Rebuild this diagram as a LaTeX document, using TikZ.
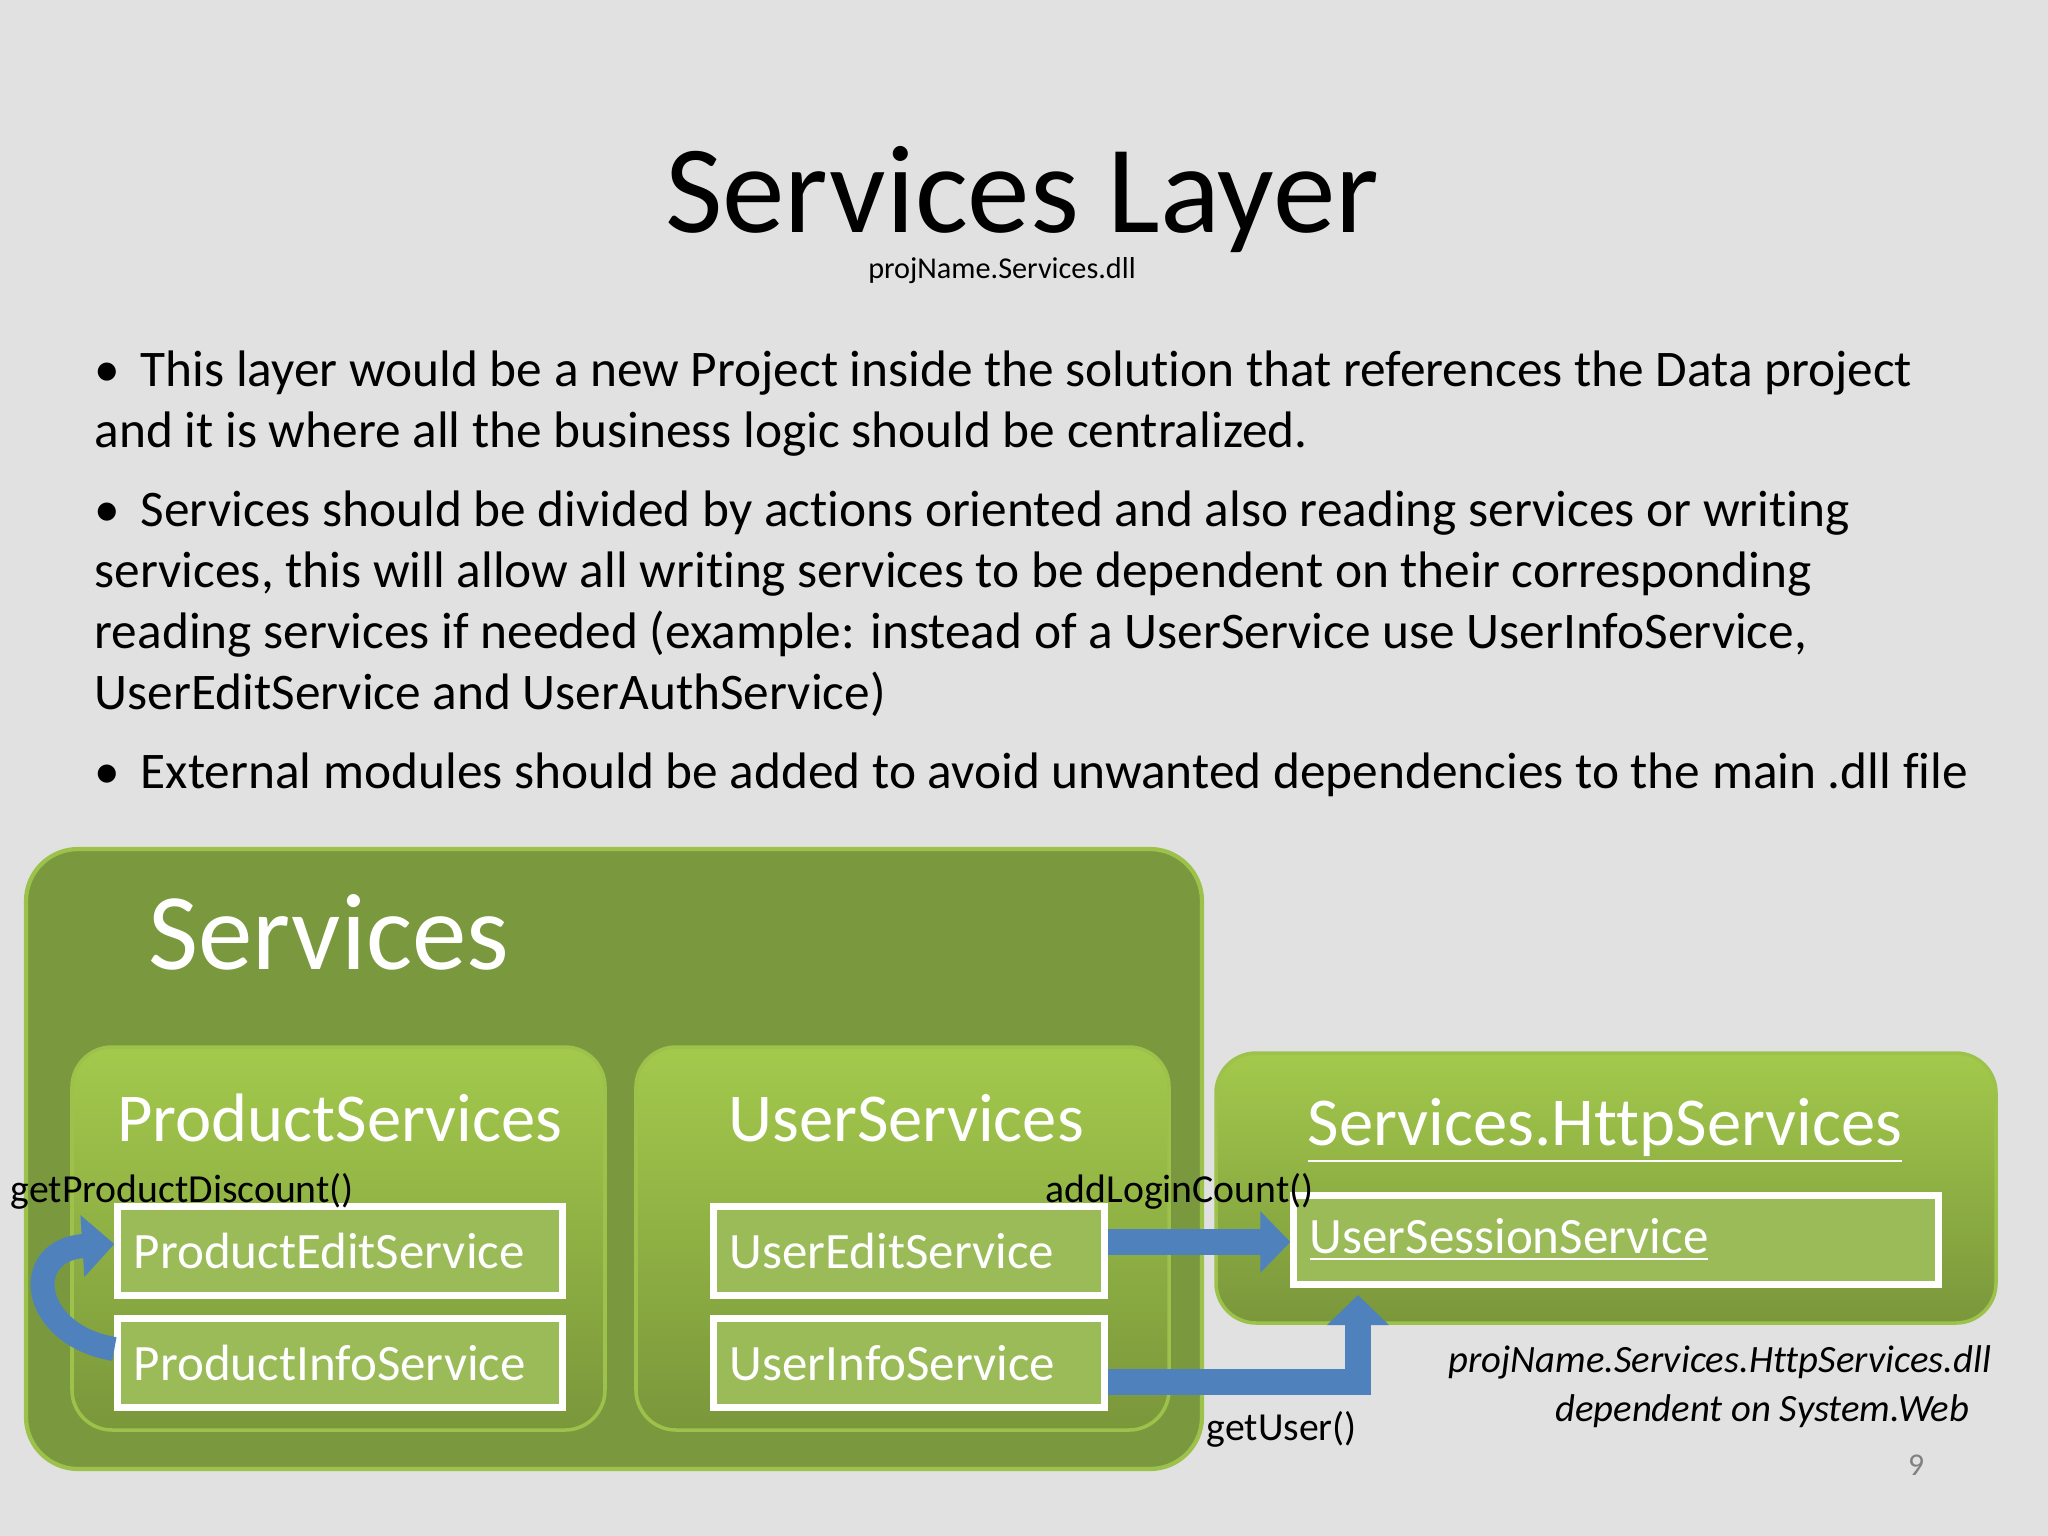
\documentclass[tikz,border=0pt]{standalone}
\usepackage{fontspec}
\setmainfont[Ligatures={NoCommon,NoRare}]{Carlito}
\usetikzlibrary{arrows.meta}
\definecolor{bg}{HTML}{E1E1E1}
\definecolor{ablue}{HTML}{4F81BD}
\definecolor{gtop}{HTML}{A3C94C}
\definecolor{gbot}{HTML}{7A973B}
\definecolor{obig}{HTML}{7A993E}
\definecolor{rim}{HTML}{9CC24C}
\definecolor{inner}{HTML}{9BBB59}
\tikzset{
  bigbox/.style={draw=rim,line width=1.2pt,rounded corners=0.52cm,fill=obig},
  grpbox/.style={draw=rim,line width=1pt,rounded corners=0.4cm,top color=gtop,bottom color=gbot},
  svcbox/.style={draw=white,line width=2pt,fill=inner,text=white,font=\fontsize{14.5}{17}\selectfont,inner sep=0pt,align=left},
  grptitle/.style={text=white,font=\fontsize{19.5}{23}\selectfont,anchor=base},
  lbl/.style={font=\fontsize{11.3}{14}\selectfont,text=black,inner sep=0pt},
  bul/.style={font=\fontsize{14.6}{17}\selectfont,anchor=base west,inner sep=0pt},
  blk/.style={draw=ablue,line width=0.26cm,-{Triangle[width=0.6cm,length=0.3cm]}},
}
\begin{document}
\begin{tikzpicture}[x=0.01cm,y=-0.01cm]
\fill[bg] (0,0) rectangle (2048,1536);
\useasboundingbox (0,0) rectangle (2048,1536);
\node[font=\fontsize{35.6}{42}\selectfont,anchor=base] (title) at (1022,232) {Services Layer};
\node[font=\fontsize{8.6}{10}\selectfont,anchor=base] (sub) at (1002,278) {projName.Services.dll};
\node[bul] (b1) at (94,386) {\textbullet\hspace{0.4em}This layer would be a new Project inside the solution that references the Data project};
\node[bul] (b1b) at (94,447) {and it is where all the business logic should be centralized.};
\node[bul] (b2) at (94,526) {\textbullet\hspace{0.4em}Services should be divided by actions oriented and also reading services or writing};
\node[bul] (b2b) at (94,587) {services, this will allow all writing services to be dependent on their corresponding};
\node[bul] (b2c) at (94,648) {reading services if needed (example: instead of a UserService use UserInfoService,};
\node[bul] (b2d) at (94,709) {UserEditService and UserAuthService)};
\node[bul] (b3) at (94,788) {\textbullet\hspace{0.4em}External modules should be added to avoid unwanted dependencies to the main .dll file};
% boxes
\draw[bigbox] (26,849) rectangle (1202,1469);
\node[text=white,font=\fontsize{31}{37}\selectfont,anchor=base west] (svc) at (136,969) {Services};
\draw[grpbox] (72,1047) rectangle (605,1430);
\draw[grpbox] (636,1047) rectangle (1169,1430);
\draw[grpbox] (1216,1053) rectangle (1996,1323);
\node[grptitle] (ps) at (340,1141) {ProductServices};
\node[grptitle] (us) at (906,1141) {UserServices};
\node[grptitle] (hs) at (1605,1145) {\underline{Services.HttpServices}};
\node[svcbox,minimum width=4.44cm,minimum height=0.89cm,text width=4.12cm] (pe) at (340,1251) {ProductEditService};
\node[svcbox,minimum width=4.44cm,minimum height=0.89cm,text width=4.12cm] (pi) at (340,1363) {ProductInfoService};
\node[svcbox,minimum width=3.90cm,minimum height=0.89cm,text width=3.58cm] (ue) at (909,1251) {UserEditService};
\node[svcbox,minimum width=3.90cm,minimum height=0.89cm,text width=3.58cm] (ui) at (909,1363) {UserInfoService};
\node[svcbox,minimum width=6.44cm,minimum height=0.89cm,text width=6.12cm] (uss) at (1616,1240) {\underline{UserSessionService}};
% arrows
\coordinate (c1) at (1358,1382);
\draw[blk] (ue.east|-0,1242) -- (uss.west|-0,1242);
\draw[blk,-] (ui.east|-c1) -- (c1);
\draw[blk] (c1) ++(0,13) -- (1358,1295);
\draw[ablue,line width=0.24cm,-{Triangle[width=0.6cm,length=0.32cm]}] (pi.west|-0,1349) .. controls (30,1335) and (20,1250) .. (pe.west|-0,1244);
% labels
\node[lbl,anchor=base west] (l1) at (10,1202) {getProductDiscount()};
\node[lbl,anchor=base west] (l2) at (1045,1202) {addLoginCount()};
\node[lbl,anchor=base west] (l3) at (1206,1440) {getUser()};
\node[lbl,anchor=base east,font=\fontsize{11}{14}\selectfont\itshape] (d1) at (1992,1372) {projName.Services.HttpServices.dll};
\node[lbl,anchor=base east,font=\fontsize{11}{14}\selectfont\itshape] (d2) at (1970,1421) {dependent on System.Web};
\node[text=gray,font=\fontsize{9}{11}\selectfont] (pg) at (1916,1465) {9};
\end{tikzpicture}
\end{document}
